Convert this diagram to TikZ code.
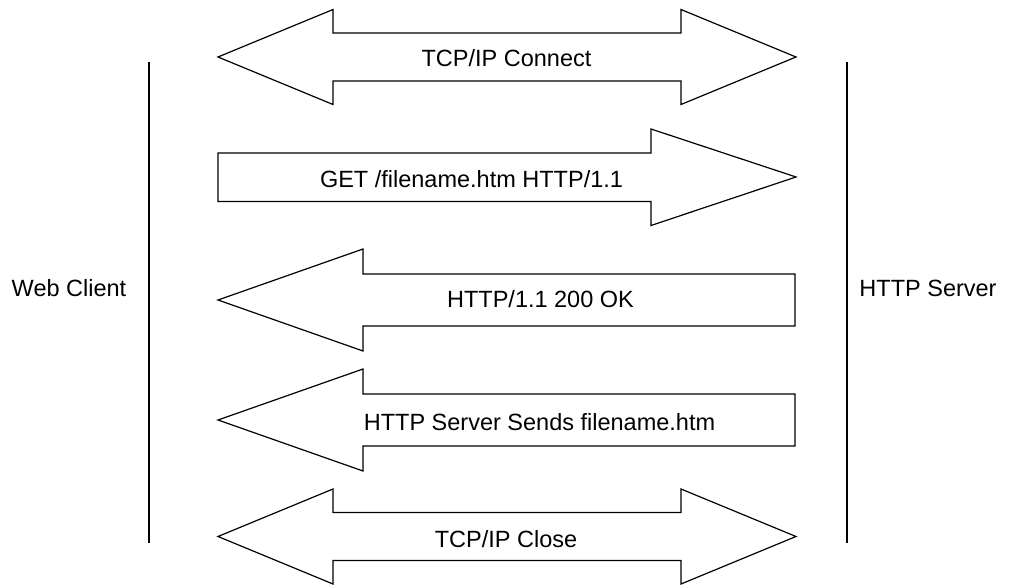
\documentclass[tikz,border=0pt]{standalone}
\usepackage{fontspec}
\setmainfont{Liberation Sans}
\begin{document}
\begin{tikzpicture}[x=1pt,y=-1pt,
  flow/.style={draw=black, fill=white, line width=1.2pt, line join=miter},
  lifeline/.style={draw=black, line width=2pt},
  msg/.style={anchor=base, inner sep=0pt, font=\fontsize{23.5}{28}\selectfont},
  party/.style={anchor=base, inner sep=0pt, font=\fontsize{23.5}{28}\selectfont}]
\useasboundingbox (0,0) rectangle (1010,585);

% lifelines of the two parties
\coordinate (clienttop) at (149,62);
\coordinate (clientbot) at (149,543);
\coordinate (servertop) at (847,62);
\coordinate (serverbot) at (847,543);
\draw[lifeline] (clienttop) -- (clientbot);
\draw[lifeline] (servertop) -- (serverbot);

\node[party] (client) at (69,297) {Web Client};
\node[party] (server) at (928,297) {HTTP Server};

% connection set-up (both directions)
\draw[flow] (218,57) -- (333,9.5) -- (333,33) -- (681,33) -- (681,9.5) -- (796,57)
  -- (681,104.5) -- (681,81) -- (333,81) -- (333,104.5) -- cycle;
\node[msg] (connect) at (506.5,67) {TCP/IP Connect};

% request: client to server
\draw[flow] (218,153) -- (651,153) -- (651,129) -- (796,177) -- (651,225.5)
  -- (651,201.5) -- (218,201.5) -- cycle;
\node[msg] (request) at (471.5,188) {GET /filename.htm HTTP/1.1};

% status line: server to client
\draw[flow] (218,300) -- (363,249) -- (363,274) -- (795,274) -- (795,326)
  -- (363,326) -- (363,351) -- cycle;
\node[msg] (status) at (540.5,308) {HTTP/1.1 200 OK};

% body: server to client
\draw[flow] (218,420) -- (363,369) -- (363,394) -- (795,394) -- (795,446)
  -- (363,446) -- (363,471) -- cycle;
\node[msg] (body) at (539.5,430) {HTTP Server Sends filename.htm};

% connection tear-down (both directions)
\draw[flow] (218,536.5) -- (333,489) -- (333,512.5) -- (681,512.5) -- (681,489) -- (796,536.5)
  -- (681,584) -- (681,560.5) -- (333,560.5) -- (333,584) -- cycle;
\node[msg] (close) at (506,547) {TCP/IP Close};
\end{tikzpicture}
\end{document}
